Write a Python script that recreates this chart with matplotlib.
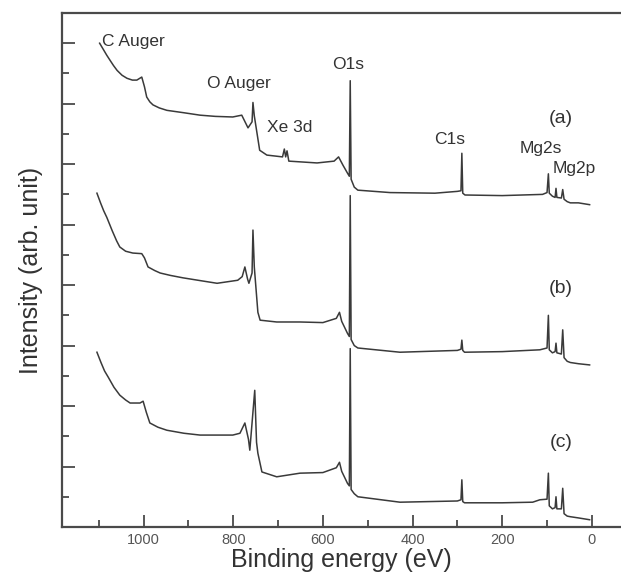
import matplotlib
matplotlib.use("Agg")
import matplotlib.pyplot as plt
from matplotlib.ticker import MultipleLocator

plt.rcParams['font.family'] = ['Liberation Sans', 'DejaVu Sans']

# spectrum (a): binding energy (eV) / intensity (offset units)
energy_a = [1098, 1090, 1082, 1075, 1067, 1059, 1048, 1037, 1025, 1015,
            1004, 998, 993, 986, 979, 965, 948, 910, 874, 840,
            801, 781, 767, 758, 756, 753, 741, 725, 690, 686,
            683, 680, 676, 613, 575, 565, 555, 545, 541, 539,
            537, 530, 522, 450, 350, 300, 292, 290, 288, 283,
            200, 110, 100, 97, 95, 88, 82, 80, 78, 68,
            65, 62, 55, 48, 30, 5]
inten_a = [8.00, 7.90, 7.80, 7.72, 7.63, 7.55, 7.47, 7.42, 7.39, 7.39,
           7.44, 7.28, 7.11, 7.03, 6.98, 6.93, 6.89, 6.85, 6.81, 6.79,
           6.78, 6.81, 6.60, 6.70, 7.02, 6.80, 6.23, 6.15, 6.12, 6.25,
           6.12, 6.22, 6.05, 6.02, 6.05, 6.12, 5.98, 5.85, 5.80, 7.38,
           5.75, 5.62, 5.57, 5.53, 5.52, 5.55, 5.56, 6.18, 5.52, 5.49,
           5.48, 5.50, 5.53, 5.84, 5.52, 5.47, 5.45, 5.60, 5.45, 5.44,
           5.58, 5.42, 5.38, 5.36, 5.36, 5.33]

# spectrum (b)
energy_b = [1104, 1096, 1089, 1082, 1070, 1060, 1053, 1040, 1024, 1004,
            998, 990, 975, 963, 940, 912, 870, 836, 790, 780,
            774, 768, 765, 758, 756, 753, 745, 740, 703, 651,
            600, 570, 563, 558, 545, 541, 539, 537, 530, 522,
            428, 300, 292, 290, 288, 284, 200, 116, 100, 97,
            95, 88, 82, 80, 78, 68, 65, 62, 55, 48,
            30, 5]
inten_b = [5.52, 5.36, 5.23, 5.12, 4.90, 4.73, 4.63, 4.56, 4.53, 4.52,
           4.45, 4.30, 4.24, 4.20, 4.16, 4.12, 4.07, 4.03, 4.08, 4.14,
           4.30, 4.10, 4.03, 4.20, 4.91, 4.30, 3.55, 3.42, 3.39, 3.39,
           3.38, 3.45, 3.55, 3.40, 3.20, 3.15, 5.48, 3.10, 3.00, 2.96,
           2.89, 2.92, 2.94, 3.09, 2.92, 2.89, 2.90, 2.93, 2.96, 3.50,
           2.93, 2.88, 2.90, 3.04, 2.88, 2.86, 3.26, 2.80, 2.74, 2.72,
           2.70, 2.68]

# spectrum (c)
energy_c = [1104, 1095, 1087, 1079, 1066, 1053, 1040, 1030, 1008, 1001,
            994, 986, 968, 948, 910, 874, 801, 785, 774, 766,
            763, 752, 748, 745, 736, 703, 651, 600, 570, 563,
            558, 545, 541, 539, 537, 530, 522, 428, 300, 292,
            290, 288, 284, 200, 132, 116, 100, 97, 95, 88,
            82, 80, 78, 68, 65, 62, 55, 48, 30, 5]
inten_c = [2.89, 2.72, 2.58, 2.48, 2.31, 2.18, 2.10, 2.05, 2.05, 2.08,
           1.90, 1.72, 1.65, 1.60, 1.55, 1.52, 1.52, 1.55, 1.72, 1.45,
           1.27, 2.26, 1.40, 1.22, 0.91, 0.83, 0.89, 0.90, 0.98, 1.07,
           0.92, 0.72, 0.68, 2.95, 0.62, 0.55, 0.50, 0.41, 0.43, 0.45,
           0.78, 0.42, 0.40, 0.40, 0.41, 0.45, 0.46, 0.89, 0.35, 0.30,
           0.32, 0.50, 0.30, 0.30, 0.64, 0.22, 0.18, 0.17, 0.15, 0.12]

# peak labels: text, energy, intensity, horizontal alignment
peak_labels = [("C Auger", 1093, 8.02, 'left'),
               ("O Auger", 859, 7.34, 'left'),
               ("Xe 3d", 725, 6.61, 'left'),
               ("O1s", 544, 7.64, 'center'),
               ("C1s", 317, 6.40, 'center'),
               ("Mg2s", 114, 6.26, 'center'),
               ("Mg2p", 40, 5.93, 'center')]
sample_labels = [("(a)", 69, 6.76), ("(b)", 69, 3.95), ("(c)", 69, 1.39)]

line_col = '#3a3a3a'
axis_col = '#4a4a4a'

fig = plt.figure(figsize=(6.21, 5.74), dpi=100)
ax = fig.add_axes([0.0998, 0.0819, 0.9002, 0.8955])

for e, i in [(energy_a, inten_a), (energy_b, inten_b), (energy_c, inten_c)]:
    ax.plot(e, i, color=line_col, lw=1.1)

for txt, x, y, ha in peak_labels:
    ax.text(x, y, txt, ha=ha, va='center', fontsize=12.5, color='#333333')
for txt, x, y in sample_labels:
    ax.text(x, y, txt, ha='center', va='center', fontsize=14, color='#333333')

ax.set_xlim(1182, -65)
ax.set_ylim(0, 8.5)
ax.xaxis.set_major_locator(MultipleLocator(200))
ax.xaxis.set_minor_locator(MultipleLocator(100))
ax.yaxis.set_major_locator(MultipleLocator(1))
ax.yaxis.set_minor_locator(MultipleLocator(0.5))
ax.set_yticklabels([])
ax.tick_params(which='both', direction='in', color=axis_col, width=1.3)
ax.tick_params(which='major', length=9)
ax.tick_params(which='minor', length=5)
ax.tick_params(axis='x', labelsize=10.5, labelcolor='#555555', pad=4)
ax.tick_params(axis='y', left=True, right=False)
ax.tick_params(axis='x', top=False)

for side in ['left', 'bottom', 'top']:
    ax.spines[side].set_color(axis_col)
    ax.spines[side].set_linewidth(1.6)
ax.spines['right'].set_visible(False)

ax.set_xlabel("Binding energy (eV)", fontsize=18, color='#333333', labelpad=1)
ax.set_ylabel("Intensity (arb. unit)", fontsize=18, color='#333333', labelpad=10)

fig.savefig('out.png', dpi=100)
